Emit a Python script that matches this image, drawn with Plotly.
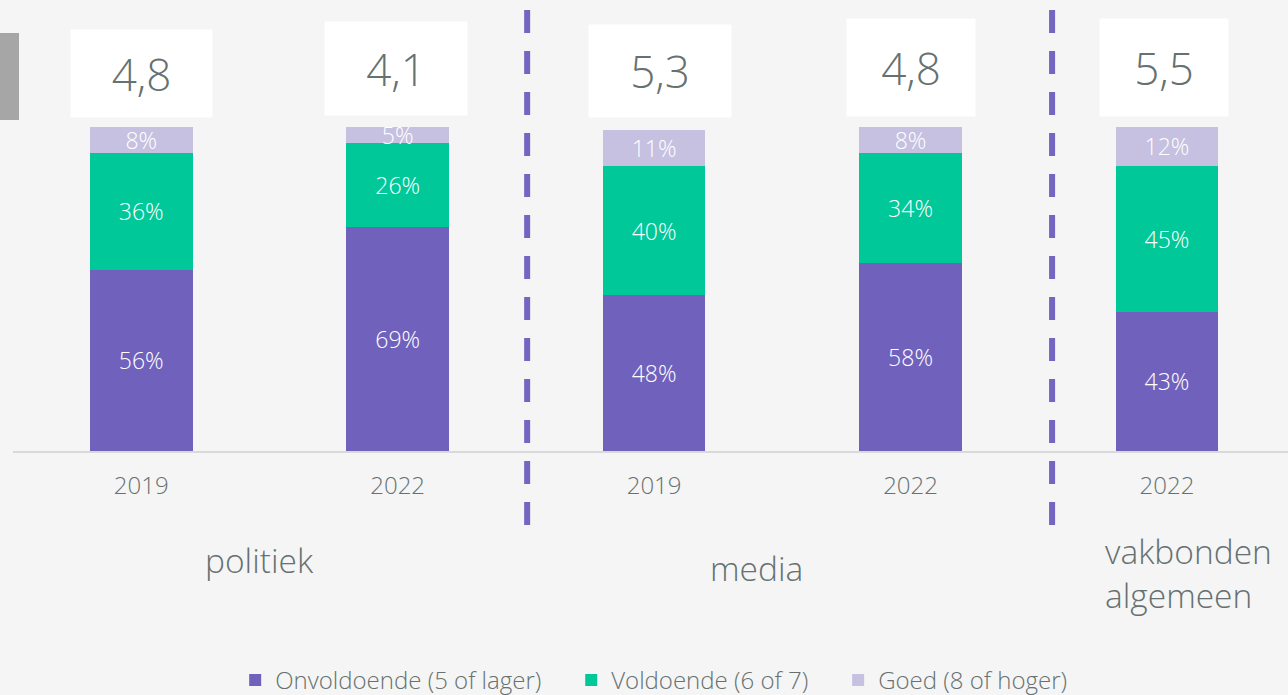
import plotly.graph_objects as go

# ---- data ----
positions = [0, 1, 2, 3, 4]
years = ["2019", "2022", "2019", "2022", "2022"]
onvoldoende = [56, 69, 48, 58, 43]
voldoende = [36, 26, 40, 34, 45]
goed = [8, 5, 11, 8, 12]
scores = ["4,8", "4,1", "5,3", "4,8", "5,5"]
groups = ["politiek", "media", "vakbonden<br>algemeen"]

# ---- layout helpers (pixel geometry of score boxes, labels, dividers) ----
box_cy = [73.5, 68.5, 71, 67.5, 67.5]
box_w = [141, 142, 142, 128, 128]
box_h = [87, 93, 92, 97, 97]
box_dx = [0, -1.5, 5.5, 0.5, -2.5]
group_x = [0.46, 2.40, 3.75]
group_y = [-0.336, -0.36, -0.376]
group_align = ["center", "center", "left"]
divider_x = [1.505, 3.552]

NB = "\u00a0" * 4
series = [
    ("Onvoldoende (5 of lager)" + NB, onvoldoende, "#7062bc"),
    ("Voldoende (6 of 7)" + NB, voldoende, "#00c899"),
    ("Goed (8 of hoger)", goed, "#c6c1e0"),
]

TEXT = "#667171"
FONT = "Open Sans"
W = 300

fig = go.Figure()
for name, vals, col in series:
    fig.add_trace(go.Bar(
        x=positions, y=vals, name=name, width=0.40,
        marker=dict(color=col, line=dict(width=0)),
        text=[f"{v}%" for v in vals], textposition="inside",
        insidetextanchor="middle", textangle=0, constraintext="none",
        insidetextfont=dict(color="white", size=23, family=FONT, weight=W),
        hoverinfo="skip",
    ))

# score boxes
for xp, s, cy, bw, bh, dx in zip(positions, scores, box_cy, box_w, box_h, box_dx):
    fig.add_annotation(
        x=xp, xref="x", y=(451 - cy) / 324, yref="paper", xshift=dx,
        text=s, showarrow=False, bgcolor="white", borderpad=0,
        width=bw, height=bh, font=dict(size=44, color=TEXT, family=FONT, weight=W),
        xanchor="center", yanchor="middle",
    )

# group labels
for g, gx, gy, al in zip(groups, group_x, group_y, group_align):
    fig.add_annotation(
        x=gx, xref="x", y=gy, yref="paper", text=g, showarrow=False,
        font=dict(size=33.5, color=TEXT, family=FONT, weight=W),
        xanchor="center" if al == "center" else "left", align=al, yanchor="middle",
    )

# dashed dividers
for dx in divider_x:
    fig.add_shape(type="line", x0=dx, x1=dx, xref="x",
                  y0=(451 - 10) / 324, y1=(451 - 527) / 324, yref="paper",
                  line=dict(color="#7466c0", width=6, dash="23px,18px"))

# grey tab top-left
fig.add_shape(type="rect", xref="paper", yref="paper",
              x0=-13 / 1275, x1=6 / 1275, y0=(451 - 120) / 324, y1=(451 - 33) / 324,
              fillcolor="#a6a6a6", line=dict(width=0))

fig.update_layout(
    width=1288, height=695,
    margin=dict(l=13, r=0, t=127, b=244, autoexpand=False),
    paper_bgcolor="#f5f5f5", plot_bgcolor="#f5f5f5",
    barmode="stack", bargap=0.6,
    uniformtext=dict(minsize=23, mode="show"),
    font=dict(family=FONT, color=TEXT),
    xaxis=dict(range=[-0.5, 4.472], tickvals=positions, ticktext=years,
               showgrid=False, zeroline=False, showline=True,
               linecolor="#d9d9d9", linewidth=1.5, ticks="",
               tickfont=dict(size=24, color=TEXT, family=FONT, weight=W),
               ticklabelstandoff=12),
    yaxis=dict(range=[0, 100], visible=False, fixedrange=True),
    legend=dict(orientation="h", x=0.5025, xanchor="center", y=-0.708, yanchor="middle",
                font=dict(size=24, color=TEXT, family=FONT, weight=W), traceorder="normal",
                bgcolor="rgba(0,0,0,0)"),
    hovermode=False,
)

fig.write_html(
    "out.html",
    config={"displayModeBar": False},
    post_script="document.body.style.margin='0';document.body.style.background='#f5f5f5';",
)
